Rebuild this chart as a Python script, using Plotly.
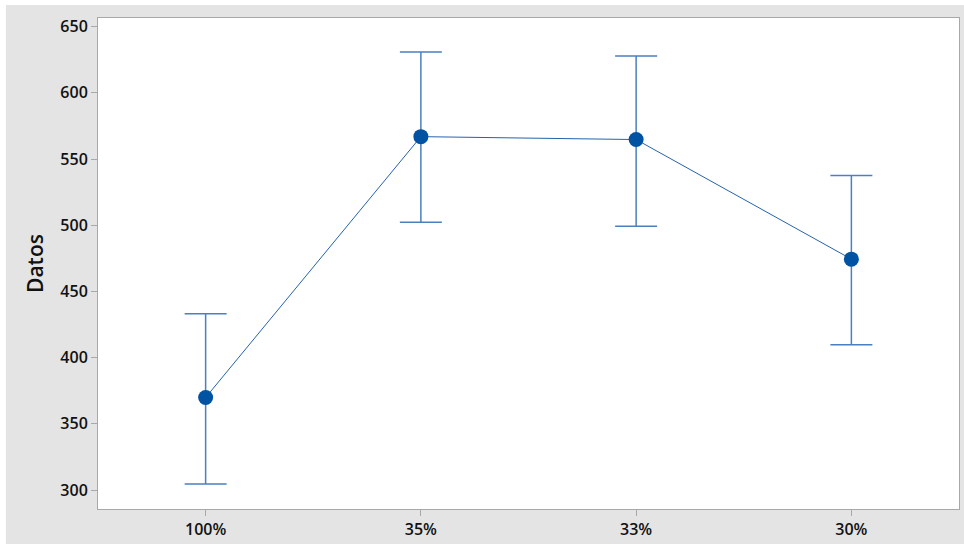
import plotly.graph_objects as go

# Group labels and interval plot values
categories = ["100%", "35%", "33%", "30%"]
means = [369.9, 566.9, 564.7, 474.4]
upper = [433.1, 630.8, 627.8, 537.6]
lower = [304.5, 502.3, 499.2, 409.8]

err_plus = [u - m for u, m in zip(upper, means)]
err_minus = [m - l for m, l in zip(means, lower)]
xpos = list(range(len(categories)))

fig = go.Figure()
fig.add_trace(go.Scatter(
    x=xpos, y=means,
    mode="lines+markers",
    line=dict(color="#2563ad", width=1),
    marker=dict(color="#0052a3", size=15),
    error_y=dict(
        type="data", symmetric=False,
        array=err_plus, arrayminus=err_minus,
        color="#4a7fc1", thickness=1.5, width=21,
    ),
    showlegend=False,
))

font_family = "Open Sans, Noto Sans, sans-serif"
axis_font = dict(family=font_family, size=16, color="#111111", weight=600)

fig.update_layout(
    width=964, height=544,
    margin=dict(l=98, r=4, t=18, b=30),
    paper_bgcolor="#e4e4e4",
    plot_bgcolor="#ffffff",
    font=axis_font,
    shapes=[
        dict(type="rect", xref="paper", yref="paper", layer="below",
             x0=-0.2, x1=1.1, y0=1.0264, y1=1.1,
             fillcolor="#ffffff", line=dict(width=0)),
        dict(type="rect", xref="paper", yref="paper", layer="below",
             x0=-0.2, x1=-0.1070, y0=-0.2, y1=1.1,
             fillcolor="#ffffff", line=dict(width=0)),
    ],
)

fig.update_xaxes(
    range=[-0.5, 3.5],
    tickmode="array", tickvals=xpos, ticktext=categories,
    showgrid=False, zeroline=False,
    showline=True, mirror=True, linecolor="#a8a8a8", linewidth=1,
    ticks="outside", ticklen=6, tickcolor="#a8a8a8",
    tickfont=axis_font,
)
fig.update_yaxes(
    range=[285.7, 656.5],
    tickvals=[300, 350, 400, 450, 500, 550, 600, 650],
    showgrid=False, zeroline=False,
    showline=True, mirror=True, linecolor="#a8a8a8", linewidth=1,
    ticks="outside", ticklen=6, tickcolor="#a8a8a8",
    tickfont=axis_font,
    title=dict(text="Datos", font=dict(family=font_family, size=21, color="#111111", weight=600), standoff=10),
)

fig.write_html("out.html")
